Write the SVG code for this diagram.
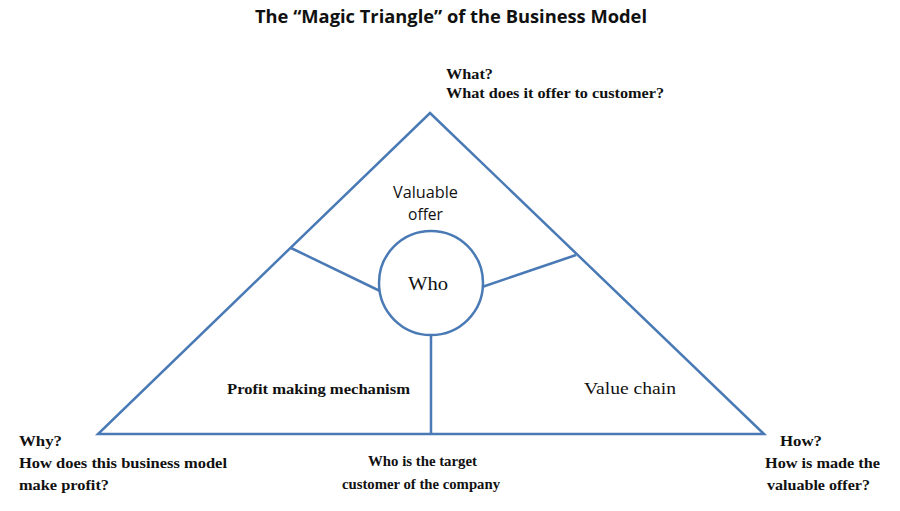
<svg xmlns="http://www.w3.org/2000/svg" width="900" height="511" viewBox="0 0 900 511">
<style>
.ln{stroke:#4a7ab5;stroke-width:2.5;fill:none}
.s{font-family:"Liberation Serif",serif;font-weight:bold;font-size:15.5px;fill:#111}
.c{font-family:"Open Sans","Liberation Sans",sans-serif;fill:#111}
</style>
<rect width="900" height="511" fill="#fff"/>
<text x="451" y="23" text-anchor="middle" class="c" style="font-size:18.5px;font-weight:bold" textLength="392" lengthAdjust="spacingAndGlyphs">The “Magic Triangle” of the Business Model</text>
<g id="connectors">
<polygon class="ln" points="430,113 764,434 98,434"/>
<line class="ln" x1="291" y1="248" x2="380" y2="291"/>
<line class="ln" x1="576" y1="255" x2="482" y2="287"/>
<line class="ln" x1="431" y1="335" x2="431" y2="434"/>
</g>
<g id="who">
<circle class="ln" cx="431" cy="283" r="52" fill="#fff"/>
<text x="408" y="290" style="font-family:'Liberation Serif',serif;font-size:19px;fill:#111" textLength="40" lengthAdjust="spacingAndGlyphs">Who</text>
</g>
<g id="offer">
<text x="393" y="198" class="c" style="font-size:16px" textLength="65" lengthAdjust="spacingAndGlyphs">Valuable</text>
<text x="408" y="220" class="c" style="font-size:16px" textLength="35" lengthAdjust="spacingAndGlyphs">offer</text>
</g>
<g id="profit"><text x="227" y="394" class="s" textLength="183" lengthAdjust="spacingAndGlyphs">Profit making  mechanism</text></g>
<g id="chain"><text x="584" y="394" style="font-family:'Liberation Serif',serif;font-size:17px;fill:#111" textLength="92" lengthAdjust="spacingAndGlyphs">Value chain</text></g>
<g id="what">
<text x="446" y="79" class="s" textLength="47" lengthAdjust="spacingAndGlyphs">What?</text>
<text x="446" y="98" class="s" textLength="218" lengthAdjust="spacingAndGlyphs">What does it offer to customer?</text>
</g>
<g id="why">
<text x="19" y="446" class="s" textLength="43" lengthAdjust="spacingAndGlyphs">Why?</text>
<text x="19" y="468" class="s" textLength="208" lengthAdjust="spacingAndGlyphs">How does this business model</text>
<text x="19" y="490" class="s" textLength="90" lengthAdjust="spacingAndGlyphs">make profit?</text>
</g>
<g id="target">
<text x="368" y="466" class="s" style="font-size:14.5px" textLength="109" lengthAdjust="spacingAndGlyphs">Who is the target</text>
<text x="342" y="489" class="s" style="font-size:14.5px" textLength="158" lengthAdjust="spacingAndGlyphs">customer of the company</text>
</g>
<g id="how">
<text x="780" y="446" class="s" textLength="42" lengthAdjust="spacingAndGlyphs">How?</text>
<text x="765" y="468" class="s" textLength="115" lengthAdjust="spacingAndGlyphs">How is made the</text>
<text x="767" y="490" class="s" textLength="103" lengthAdjust="spacingAndGlyphs">valuable offer?</text>
</g>
</svg>
